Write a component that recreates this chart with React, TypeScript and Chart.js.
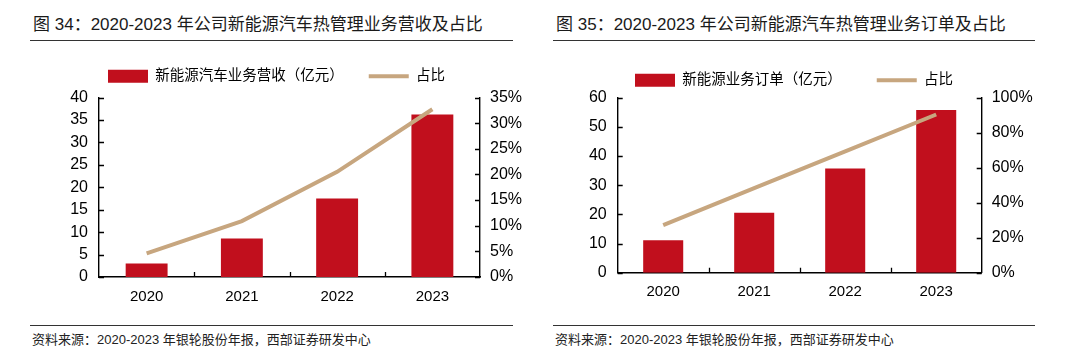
import React, { useEffect, useRef } from "react";
import { Chart, registerables } from "chart.js";

Chart.register(...registerables);

// ---------- data ----------
const years = ["2020", "2021", "2022", "2023"];
const revenue = [3.0, 8.6, 17.5, 36.2]; // 新能源汽车业务营收（亿元）
const revenueShare = [4.6, 10.9, 20.5, 32.7]; // 占比 %
const orders = [11.1, 20.5, 35.7, 55.7]; // 新能源业务订单（亿元）
const orderShare = [27.2, 48.3, 69.3, 90.3]; // 占比 %

const leftAxisMax = [40, 60];
const leftAxisStep = [5, 10];
const rightAxisMax = [35, 100];
const rightAxisStep = [5, 20];

const titles = [
  "图 34：2020-2023 年公司新能源汽车热管理业务营收及占比",
  "图 35：2020-2023 年公司新能源汽车热管理业务订单及占比",
];
const barLabels = ["新能源汽车业务营收（亿元）", "新能源业务订单（亿元）"];
const lineLabel = "占比";
const sourceText = "资料来源：2020-2023 年银轮股份年报，西部证券研发中心";

// ---------- styles ----------
const RED = "#C10F1D";
const TAN = "#C7A67F";
const LATIN = "'Liberation Sans', Arial, 'Noto Sans CJK SC', sans-serif";
const CJK = "'Liberation Sans', 'Noto Sans CJK SC', sans-serif";

const innerTicks = {
  id: "innerTicks",
  afterDraw(chart: any) {
    const { ctx, chartArea: a, scales } = chart;
    const L = 5;
    ctx.save();
    ctx.strokeStyle = "#000";
    ctx.lineWidth = 1.3;
    ctx.beginPath();
    const xs = scales.x;
    for (let i = 1; i < xs.ticks.length; i++) {
      const px = Math.round((xs.getPixelForTick(i - 1) + xs.getPixelForTick(i)) / 2) + 0.5;
      ctx.moveTo(px, a.bottom);
      ctx.lineTo(px, a.bottom - L);
    }
    for (const t of scales.y.ticks) {
      const py = Math.round(scales.y.getPixelForValue(t.value)) + 0.5;
      ctx.moveTo(a.left, py);
      ctx.lineTo(a.left + L, py);
    }
    for (const t of scales.y1.ticks) {
      const py = Math.round(scales.y1.getPixelForValue(t.value)) + 0.5;
      ctx.moveTo(a.right, py);
      ctx.lineTo(a.right - L, py);
    }
    ctx.stroke();
    ctx.restore();
  },
};

function legendExtra(extra: number) {
  return {
    id: "legendExtra",
    beforeLayout(chart: any) {
      const lg = chart.legend;
      if (lg && !lg.__patched) {
        const f = lg.fit;
        lg.fit = function () {
          f.call(this);
          this.height += extra;
        };
        lg.__patched = true;
      }
    },
  };
}

type Cfg = {
  idx: number;
  bars: number[];
  share: number[];
  left: number;
  top: number;
  width: number;
  height: number;
  padTop: number;
  padRight: number;
  legendPad: number;
  legendExtraH: number;
  yW: number;
  y1W: number;
  xH: number;
  xPad: number;
};

function ComboChart(c: Cfg) {
  const ref = useRef<HTMLCanvasElement | null>(null);
  useEffect(() => {
    if (!ref.current) return;
    const yFont = { family: LATIN, size: 16 };
    const xFont = { family: LATIN, size: 15 };
    const chart = new Chart(ref.current, {
      data: {
        labels: years,
        datasets: [
          {
            type: "line",
            label: lineLabel,
            data: c.share,
            yAxisID: "y1",
            borderColor: TAN,
            backgroundColor: TAN,
            borderWidth: 4,
            pointRadius: 0,
            tension: 0,
            order: 0,
          },
          {
            type: "bar",
            label: barLabels[c.idx],
            data: c.bars,
            yAxisID: "y",
            backgroundColor: RED,
            borderWidth: 0,
            barPercentage: 0.44,
            categoryPercentage: 1,
            order: 1,
          },
        ],
      } as any,
      options: {
        responsive: false,
        animation: false,
        layout: { padding: { top: c.padTop, right: c.padRight, left: 0, bottom: 0 } },
        plugins: {
          tooltip: { enabled: false },
          legend: {
            position: "top",
            labels: {
              usePointStyle: true,
              pointStyleWidth: 40,
              boxHeight: 13,
              padding: c.legendPad,
              color: "#1a1a1a",
              font: { family: CJK, size: 14.5 },
              generateLabels: () => [
                {
                  text: barLabels[c.idx],
                  fillStyle: RED,
                  strokeStyle: RED,
                  lineWidth: 0,
                  pointStyle: "rect",
                  hidden: false,
                  datasetIndex: 1,
                },
                {
                  text: lineLabel,
                  fillStyle: TAN,
                  strokeStyle: TAN,
                  lineWidth: 4,
                  lineCap: "butt",
                  pointStyle: "line",
                  hidden: false,
                  datasetIndex: 0,
                },
              ],
            },
          },
        },
        scales: {
          x: {
            grid: { display: false, drawTicks: false },
            border: { display: true, color: "#000", width: 1.4 },
            ticks: { padding: c.xPad, font: xFont, color: "#000" },
            afterFit: (s: any) => {
              s.height = c.xH;
            },
          },
          y: {
            position: "left",
            min: 0,
            max: leftAxisMax[c.idx],
            grid: { display: false, drawTicks: false },
            border: { display: true, color: "#000", width: 1.4 },
            ticks: { stepSize: leftAxisStep[c.idx], padding: 11, font: yFont, color: "#000" },
            afterFit: (s: any) => {
              s.width = c.yW;
            },
          },
          y1: {
            position: "right",
            min: 0,
            max: rightAxisMax[c.idx],
            grid: { display: false, drawTicks: false },
            border: { display: true, color: "#000", width: 1.4 },
            ticks: {
              stepSize: rightAxisStep[c.idx],
              padding: 10,
              font: yFont,
              color: "#000",
              callback: (v: any) => v + "%",
            },
            afterFit: (s: any) => {
              s.width = c.y1W;
            },
          },
        },
      } as any,
      plugins: [innerTicks, legendExtra(c.legendExtraH)],
    });
    return () => chart.destroy();
  }, []);
  return (
    <canvas
      ref={ref}
      width={c.width}
      height={c.height}
      style={{ position: "absolute", left: c.left, top: c.top, width: c.width, height: c.height }}
    />
  );
}

const textBase: React.CSSProperties = { position: "absolute", whiteSpace: "nowrap", margin: 0 };

function Panel({ x, w, idx }: { x: number; w: number; idx: number }) {
  return (
    <>
      <div
        style={{
          ...textBase,
          left: x + 3,
          top: 15,
          fontFamily: CJK,
          fontSize: 17,
          lineHeight: "20px",
          color: "#1a1a1a",
        }}
      >
        {titles[idx]}
      </div>
      <div style={{ position: "absolute", left: x, top: 40, width: w, height: 1, background: "#333" }} />
      <div style={{ position: "absolute", left: x, top: 325, width: w, height: 1, background: "#333" }} />
      <div
        style={{
          ...textBase,
          left: x + 2,
          top: 332,
          fontFamily: CJK,
          fontSize: 13,
          lineHeight: "16px",
          color: "#222",
        }}
      >
        {sourceText}
      </div>
    </>
  );
}

export default function App() {
  return (
    <div
      style={{
        position: "absolute",
        left: 0,
        top: 0,
        width: 1080,
        height: 362,
        background: "#fff",
        overflow: "hidden",
      }}
    >
      <Panel x={30} w={483} idx={0} />
      <Panel x={553} w={482} idx={1} />
      <ComboChart
        idx={0}
        bars={revenue}
        share={revenueShare}
        left={20}
        top={40}
        width={520}
        height={280}
        padTop={4}
        padRight={7}
        legendPad={25}
        legendExtraH={4}
        yW={79}
        y1W={53}
        xH={43}
        xPad={11}
      />
      <ComboChart
        idx={1}
        bars={orders}
        share={orderShare}
        left={540}
        top={35}
        width={540}
        height={285}
        padTop={3}
        padRight={32}
        legendPad={35}
        legendExtraH={0}
        yW={77.7}
        y1W={66.3}
        xH={47.3}
        xPad={10}
      />
    </div>
  );
}
